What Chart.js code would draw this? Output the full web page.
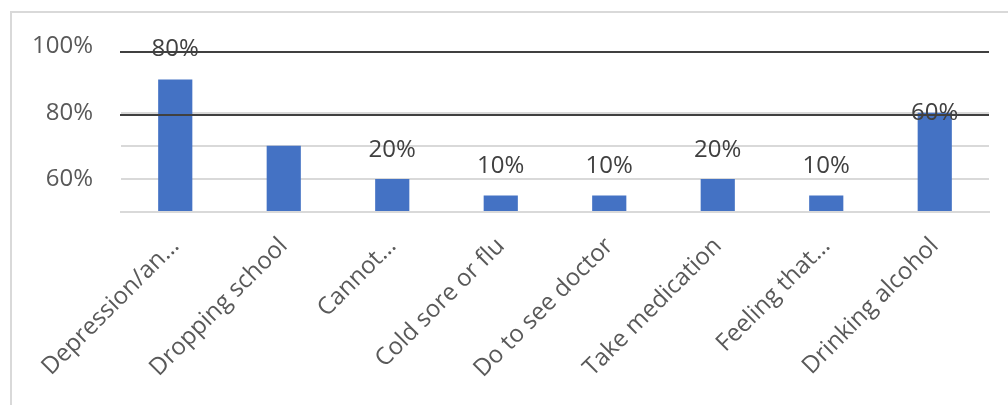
<!DOCTYPE html>
<html>
<head>
<meta charset="utf-8">
<script src="https://cdn.jsdelivr.net/npm/chart.js@4"></script>
<style>
  html, body { margin: 0; padding: 0; background: #fff; }
  #wrap { position: relative; width: 1008px; height: 405px; overflow: hidden; }
  #frame {
    position: absolute; left: 10px; top: 11px; width: 1100px; height: 500px;
    border-left: 2px solid #d9d9d9; border-top: 2px solid #d9d9d9;
  }
  #chart { position: absolute; left: 0; top: -29px; }
</style>
</head>
<body>
<div id="wrap">
  <div id="frame"></div>
  <canvas id="chart" width="1008" height="434"></canvas>
</div>
<script>
// survey categories and shares
const categories = [
  'Depression/an…', 'Dropping school', 'Cannot…', 'Cold sore or flu',
  'Do to see doctor', 'Take medication', 'Feeling that…', 'Drinking alcohol'
];
const shares = [0.8, 0.4, 0.2, 0.1, 0.1, 0.2, 0.1, 0.6];
// which bars carry a value label
const showValue = [true, false, true, true, true, true, true, true];

// y-axis tick values and the text printed next to them
const tickValues = [0.2, 0.6, 1.0];
const tickLabels = ['60%', '80%', '100%'];

// dark horizontal rules across the plot
const ruleValues = [0.965, 0.585];

const gridShown = [0, 0.2, 0.4, 0.6];

const near = (a, b) => Math.abs(a - b) < 1e-6;

const valueLabels = {
  id: 'valueLabels',
  afterDatasetsDraw(chart, args, opts) {
    const ctx = chart.ctx;
    const meta = chart.getDatasetMeta(0);
    ctx.save();
    ctx.font = '24px "Open Sans"';
    ctx.fillStyle = '#404040';
    ctx.textAlign = 'center';
    ctx.textBaseline = 'middle';
    meta.data.forEach((bar, i) => {
      if (!showValue[i]) return;
      const txt = Math.round(shares[i] * 100) + '%';
      ctx.fillText(txt, bar.x, bar.y - opts.gaps[i]);
    });
    ctx.restore();
  }
};

const rules = {
  id: 'rules',
  afterDatasetsDraw(chart) {
    const ctx = chart.ctx;
    const y = chart.scales.y;
    const area = chart.chartArea;
    ctx.save();
    ctx.strokeStyle = '#404040';
    ctx.lineWidth = 2;
    ruleValues.forEach(v => {
      const py = Math.round(y.getPixelForValue(v));
      ctx.beginPath();
      ctx.moveTo(area.left - 1, py);
      ctx.lineTo(area.right, py);
      ctx.stroke();
    });
    ctx.restore();
  }
};

new Chart(document.getElementById('chart'), {
  type: 'bar',
  data: {
    labels: categories,
    datasets: [{
      data: shares,
      backgroundColor: '#4472C4',
      borderWidth: 0,
      barPercentage: 0.315,
      categoryPercentage: 1
    }]
  },
  options: {
    responsive: false,
    animation: false,
    layout: { padding: { top: 0, right: 19, left: 0, bottom: 0 } },
    plugins: {
      legend: { display: false },
      tooltip: { enabled: false },
      valueLabels: { gaps: [30, 0, 29, 29, 29, 29, 29, 0] }
    },
    scales: {
      x: {
        grid: { display: false, drawTicks: false },
        border: { color: '#d9d9d9', width: 2 },
        ticks: {
          autoSkip: false,
          minRotation: 45,
          maxRotation: 45,
          padding: 20,
          color: '#595959',
          font: { family: 'Open Sans', size: 24 }
        },
        afterFit(scale) { scale.height = 193; }
      },
      y: {
        min: 0,
        max: 1.2,
        border: { display: false },
        grid: {
          drawTicks: false,
          lineWidth: 2,
          color: ctx => gridShown.some(v => near(v, ctx.tick.value)) ? '#d9d9d9' : 'rgba(0,0,0,0)'
        },
        ticks: {
          stepSize: 0.2,
          autoSkip: false,
          padding: 28,
          color: '#595959',
          font: { family: 'Open Sans', size: 24 },
          callback: v => {
            const k = tickValues.findIndex(t => near(t, v));
            return k < 0 ? '' : tickLabels[k];
          }
        },
        afterFit(scale) { scale.width = 121; }
      }
    }
  },
  plugins: [rules, valueLabels]
});
</script>
</body>
</html>
